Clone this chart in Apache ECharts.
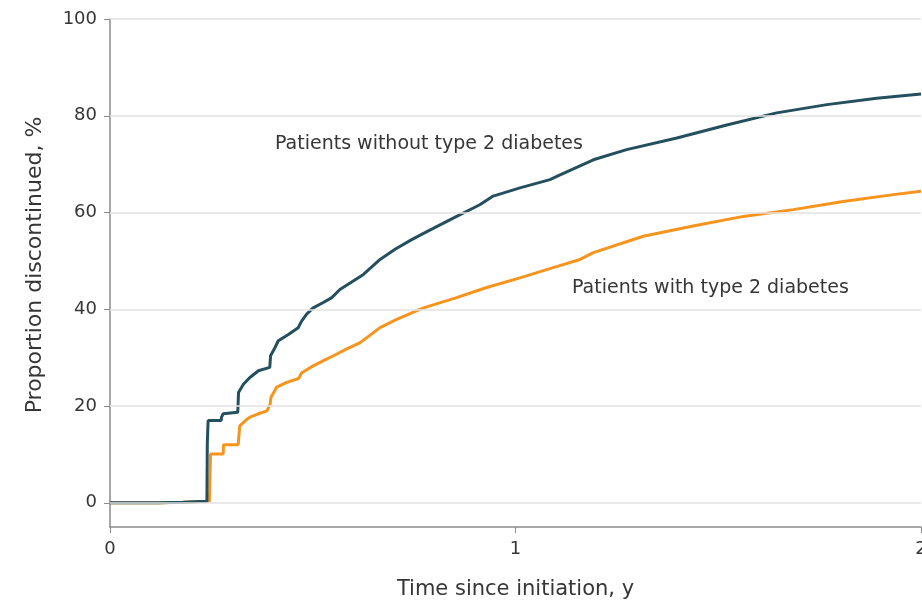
<!DOCTYPE html>
<html>
<head>
<meta charset="utf-8">
<script src="https://cdn.jsdelivr.net/npm/echarts@6/dist/echarts.min.js"></script>
<style>html,body{margin:0;padding:0;background:#fff}#c{width:922px;height:605px}</style>
</head>
<body>
<div id="c"></div>
<script>
var withoutT2D = [[0,0],[0.12,0],[0.18,0.1],[0.239,0.3],[0.240,12.5],[0.242,17],[0.274,17],[0.275,17.7],[0.279,18.4],[0.315,18.7],[0.317,22.8],[0.329,24.5],[0.345,25.9],[0.366,27.3],[0.394,28],[0.396,30.4],[0.407,32.1],[0.415,33.5],[0.440,34.8],[0.464,36.2],[0.473,37.6],[0.485,39],[0.501,40.3],[0.526,41.4],[0.547,42.4],[0.567,44.1],[0.625,47.2],[0.666,50.3],[0.703,52.4],[0.744,54.4],[0.785,56.2],[0.855,59.2],[0.912,61.6],[0.945,63.4],[1.011,65.1],[1.085,66.8],[1.110,67.8],[1.192,70.9],[1.274,73.0],[1.398,75.4],[1.521,78.1],[1.644,80.6],[1.768,82.3],[1.891,83.6],[2.0,84.5]];
var withT2D = [[0,0],[0.12,0],[0.18,0.1],[0.245,0.3],[0.247,7],[0.248,10.1],[0.279,10.1],[0.280,12],[0.316,12],[0.320,15.9],[0.334,17],[0.345,17.7],[0.366,18.4],[0.387,19],[0.395,20.4],[0.397,21.8],[0.411,23.9],[0.436,24.9],[0.465,25.7],[0.473,26.9],[0.501,28.3],[0.534,29.7],[0.551,30.4],[0.584,31.8],[0.617,33.1],[0.666,36.2],[0.707,37.9],[0.773,40.3],[0.855,42.4],[0.929,44.5],[1.011,46.5],[1.093,48.6],[1.159,50.3],[1.192,51.7],[1.315,55.1],[1.438,57.2],[1.562,59.2],[1.685,60.6],[1.808,62.3],[1.932,63.7],[2.0,64.4]];
var yTicks = [0,20,40,60,80,100];
var xTicks = [0,1,2];
var seriesNames = ['Patients without type 2 diabetes','Patients with type 2 diabetes'];
var axisTitles = {x:'Time since initiation, y', y:'Proportion discontinued, %'};

var FONT = 'DejaVu Sans';
var TXT = '#363636';
var chart = echarts.init(document.getElementById('c'));
chart.setOption({
  animation:false,
  backgroundColor:'#fff',
  grid:{left:110,right:1,top:19,bottom:78,containLabel:false,outerBoundsMode:'none'},
  xAxis:{type:'value',min:0,max:2,interval:1,
    axisLine:{show:true,onZero:false,lineStyle:{color:'#8a8a8a',width:1.5}},
    axisTick:{show:true,length:6,lineStyle:{color:'#8a8a8a'}},
    axisLabel:{show:true,color:TXT,fontSize:18,fontFamily:FONT,margin:13,customValues:xTicks},
    splitLine:{show:false},
    name:axisTitles.x,nameLocation:'middle',nameGap:52,
    nameTextStyle:{color:TXT,fontSize:21,fontFamily:FONT}},
  yAxis:{type:'value',min:-5,max:100,interval:5,
    axisLine:{show:true,onZero:false,lineStyle:{color:'#8a8a8a',width:1.5}},
    axisTick:{show:true,length:6,lineStyle:{color:'#8a8a8a'},customValues:yTicks},
    axisLabel:{show:true,color:TXT,fontSize:18,fontFamily:FONT,margin:13,customValues:yTicks},
    splitLine:{show:false}},
  graphic:[
    {type:'text',x:35,y:265,rotation:Math.PI/2,
     style:{text:axisTitles.y,fill:TXT,font:'22px "'+FONT+'"',textAlign:'center',textVerticalAlign:'middle'}},
    {type:'text',x:275,y:144,style:{text:seriesNames[0],fill:TXT,font:'19px "'+FONT+'"',textVerticalAlign:'middle'}},
    {type:'text',x:572,y:288,style:{text:seriesNames[1],fill:TXT,font:'19px "'+FONT+'"',textVerticalAlign:'middle'}}
  ],
  series:[
    {type:'line',data:[],z:1,silent:true,
     markLine:{silent:true,symbol:'none',animation:false,label:{show:false},
       lineStyle:{color:'#e2e2e2',width:1.5,type:'solid'},
       data:yTicks.map(function(v){return {yAxis:v};})}},
    {name:seriesNames[1],type:'line',data:withT2D,showSymbol:false,z:3,
     lineStyle:{color:'#f7941d',width:3},itemStyle:{color:'#f7941d'}},
    {name:seriesNames[0],type:'line',data:withoutT2D,showSymbol:false,z:4,
     lineStyle:{color:'#244f5d',width:3},itemStyle:{color:'#244f5d'}}
  ]
});
</script>
</body>
</html>
